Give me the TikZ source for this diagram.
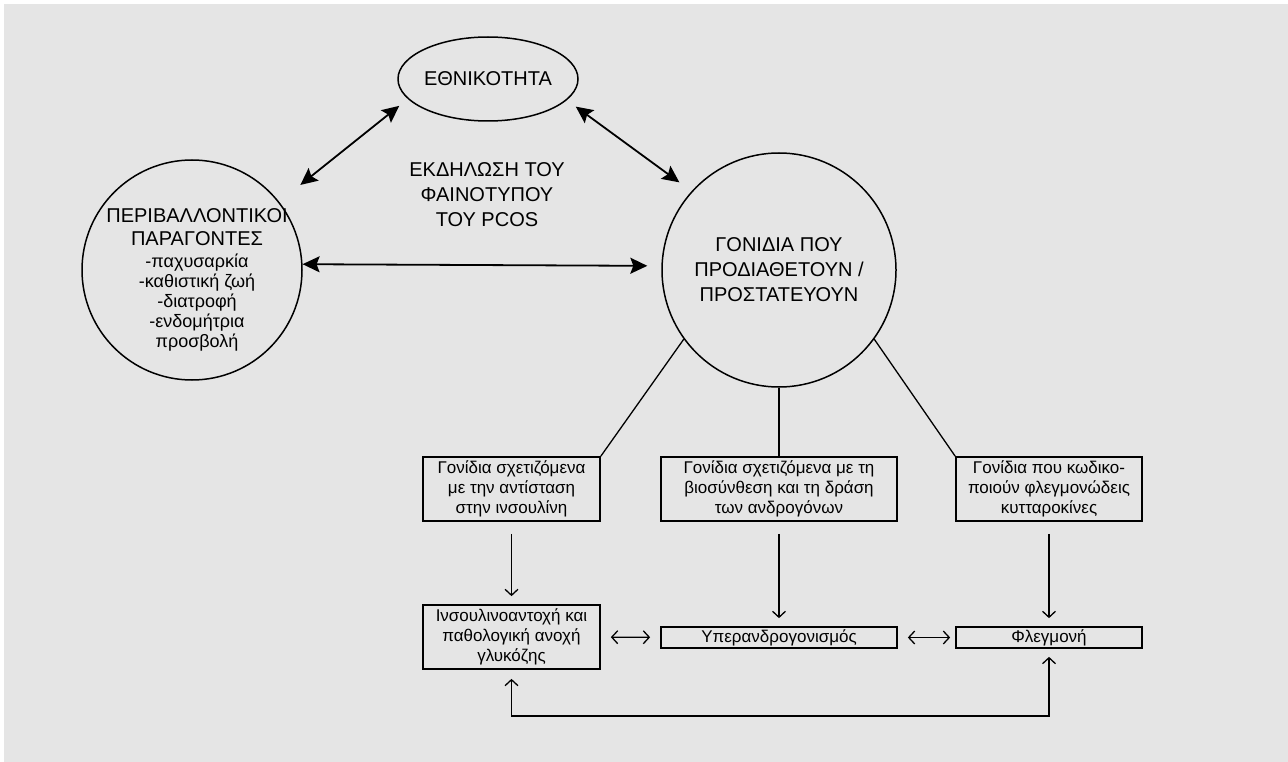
\documentclass[tikz,border=0pt]{standalone}
\usepackage{fontspec}
\setmainfont{Liberation Sans}
\usetikzlibrary{arrows.meta,shapes.geometric}
\definecolor{bggray}{HTML}{E5E5E5}
\newcommand{\capsfont}{\fontsize{20}{25}\selectfont}
\newcommand{\boxfont}{\fontsize{17}{20}\selectfont}
\newcommand{\itemfont}{\fontsize{18}{20}\selectfont}
\begin{document}
\begin{tikzpicture}[x=1pt, y=-1pt,
    bigarrow/.style={line width=1.8pt, {Stealth[length=17pt,width=16pt,inset=3pt]}-{Stealth[length=17pt,width=16pt,inset=3pt]}},
    link/.style={line width=1.3pt},
    smallarrow/.style={line width=1.3pt, -{Straight Barb[length=6pt,width=13pt]}},
    dblarrow/.style={line width=1.3pt, {Straight Barb[length=6pt,width=13pt]}-{Straight Barb[length=6pt,width=13pt]}},
    gbox/.style={draw, line width=1.7pt, align=center, font=\boxfont, inner sep=0pt}]
    \useasboundingbox (0,0) rectangle (1288,762);
    \fill[bggray] (4,4) rectangle (1288,762);
    % top part
    \node[draw, ellipse, line width=1.5pt, inner xsep=-4pt, minimum width=180pt, minimum height=84pt, font=\capsfont] (eth) at (488,79) {ΕΘΝΙΚΟΤΗΤΑ};
    \node[draw, circle, line width=1.5pt, minimum size=220pt] (env) at (192,270) {};
    \node[align=center, font=\itemfont] (envtxt) at (197,280) {{\capsfont ΠΕΡΙΒΑΛΛΟΝΤΙΚΟΙ}\\[3pt]{\capsfont ΠΑΡΑΓΟΝΤΕΣ}\\[2pt]-παχυσαρκία\\-καθιστική ζωή\\-διατροφή\\-ενδομήτρια\\προσβολή};
    \node[draw, circle, line width=1.5pt, minimum size=234pt, align=center, font=\capsfont] (gen) at (779,270) {ΓΟΝΙΔΙΑ ΠΟΥ\\ΠΡΟΔΙΑΘΕΤΟΥΝ /\\ΠΡΟΣΤΑΤΕΥΟΥΝ};
    \node[align=center, font=\capsfont] (phen) at (487,195) {ΕΚΔΗΛΩΣΗ ΤΟΥ\\ΦΑΙΝΟΤΥΠΟΥ\\ΤΟΥ PCOS};
    \draw[bigarrow, shorten <=27pt, shorten >=11pt] (env.38) -- (eth.194);
    \draw[bigarrow, shorten <=11pt, shorten >=15pt] (eth.345) -- (gen.138);
    \draw[bigarrow, shorten >=14pt] (env.3) -- (gen.178);
    % gene groups
    \node[gbox, minimum width=177pt, minimum height=64pt] (ins) at (511.5,489) {Γονίδια σχετιζόμενα\\με την αντίσταση\\στην ινσουλίνη};
    \node[gbox, minimum width=236pt, minimum height=64pt] (andr) at (779,489) {Γονίδια σχετιζόμενα με τη\\βιοσύνθεση και τη δράση\\των ανδρογόνων};
    \node[gbox, minimum width=186pt, minimum height=64pt] (cyt) at (1049,489) {Γονίδια που κωδικο-\\ποιούν φλεγμονώδεις\\κυτταροκίνες};
    \draw[link] (gen.216) -- (ins.north east);
    \draw[link] (gen.south) -- (andr.north);
    \draw[link] (gen.324) -- (cyt.north west);
    % effects
    \node[gbox, minimum width=177pt, minimum height=64pt] (glu) at (511.5,637) {Ινσουλινοαντοχή και\\παθολογική ανοχή\\γλυκόζης};
    \node[gbox, minimum width=236pt, minimum height=21pt] (hyp) at (779,637.5) {Υπερανδρογονισμός};
    \node[gbox, minimum width=186pt, minimum height=21pt] (inf) at (1049,637.5) {Φλεγμονή};
    \draw[smallarrow, shorten <=12pt, shorten >=8pt] (ins) -- (glu);
    \draw[smallarrow, shorten <=12pt, shorten >=8pt] (andr) -- (hyp);
    \draw[smallarrow, shorten <=12pt, shorten >=8pt] (cyt) -- (inf);
    \draw[dblarrow, shorten <=10pt, shorten >=10pt] (glu) -- (hyp);
    \draw[dblarrow, shorten <=10pt, shorten >=5pt] (hyp) -- (inf);
    \draw[dblarrow, shorten <=8pt, shorten >=9pt] (inf.south) -- ++(0,67) -| (glu.south);
\end{tikzpicture}
\end{document}
